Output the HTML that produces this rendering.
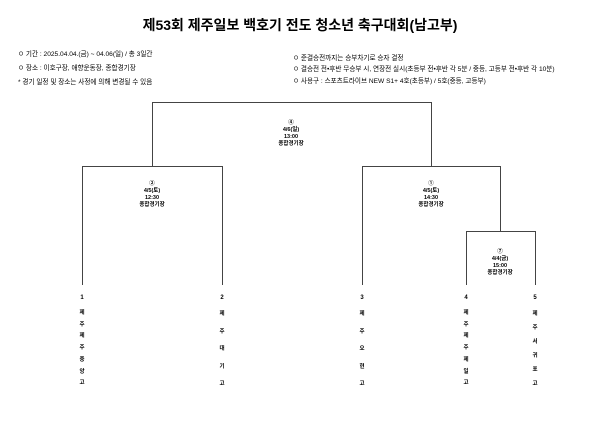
<!DOCTYPE html>
<html><head><meta charset="utf-8"><style>
body{margin:0;width:600px;height:425px;background:#fff;position:relative;overflow:hidden;font-family:"Liberation Sans","Noto Sans CJK KR",sans-serif;color:#000}
.a{position:absolute;white-space:nowrap}
.t{left:0;width:600px;text-align:center;top:15px;font-size:14px;font-weight:bold}
.i{font-size:6.6px}
.l{position:absolute;background:#444}
.lab{position:absolute;text-align:center;font-size:5.5px;font-weight:bold;line-height:7px;width:60px}
.n{position:absolute;font-size:6px;font-weight:bold;text-align:center;width:10px}
</style></head><body>
<div class="a t">제53회 제주일보 백호기 전도 청소년 축구대회(남고부)</div>
<div class="a i" style="left:18px;top:48px">ㅇ 기간 : 2025.04.04.(금) ~ 04.06(일) / 총 3일간</div>
<div class="a i" style="left:18px;top:62px">ㅇ 장소 : 이호구장, 애향운동장, 종합경기장</div>
<div class="a i" style="left:18px;top:76px">* 경기 일정 및 장소는 사정에 의해 변경될 수 있음</div>
<div class="a i" style="left:293px;top:52px">ㅇ 준결승전까지는 승부차기로 승자 결정</div>
<div class="a i" style="left:293px;top:63px">ㅇ 결승전 전•후반 무승부 시, 연장전 실시(초등부 전•후반 각 5분 / 중등, 고등부 전•후반 각 10분)</div>
<div class="a i" style="left:293px;top:75px">ㅇ 사용구 : 스포츠트라이브 NEW S1+ 4호(초등부) / 5호(중등, 고등부)</div>

<div class="l" style="left:152px;top:102px;width:280px;height:1px"></div>
<div class="l" style="left:152px;top:102px;width:1px;height:64px"></div>
<div class="l" style="left:431px;top:102px;width:1px;height:64px"></div>
<div class="l" style="left:82px;top:166px;width:141px;height:1px"></div>
<div class="l" style="left:82px;top:166px;width:1px;height:119px"></div>
<div class="l" style="left:222px;top:166px;width:1px;height:119px"></div>
<div class="l" style="left:362px;top:166px;width:139px;height:1px"></div>
<div class="l" style="left:362px;top:166px;width:1px;height:119px"></div>
<div class="l" style="left:500px;top:166px;width:1px;height:65px"></div>
<div class="l" style="left:466px;top:231px;width:70px;height:1px"></div>
<div class="l" style="left:466px;top:231px;width:1px;height:54px"></div>
<div class="l" style="left:535px;top:231px;width:1px;height:54px"></div>

<div class="lab" style="left:261px;top:120px">④<br>4/6(일)<br>13:00<br>종합경기장</div>
<div class="lab" style="left:122px;top:181px">②<br>4/5(토)<br>12:30<br>종합경기장</div>
<div class="lab" style="left:401px;top:181px">①<br>4/5(토)<br>14:30<br>종합경기장</div>
<div class="lab" style="left:470px;top:249px">⑦<br>4/4(금)<br>15:00<br>종합경기장</div>

<div class="n" style="left:77px;top:294px;line-height:8px">1</div>
<div class="n" style="left:217px;top:294px;line-height:8px">2</div>
<div class="n" style="left:357px;top:294px;line-height:8px">3</div>
<div class="n" style="left:461px;top:294px;line-height:8px">4</div>
<div class="n" style="left:530px;top:294px;line-height:8px">5</div>

<div class="n" style="left:77px;top:308px;line-height:11.7px;font-size:5.5px">제<br>주<br>제<br>주<br>중<br>앙<br>고</div>
<div class="n" style="left:217px;top:306px;line-height:17.5px;font-size:5.5px">제<br>주<br>대<br>기<br>고</div>
<div class="n" style="left:357px;top:306px;line-height:17.5px;font-size:5.5px">제<br>주<br>오<br>현<br>고</div>
<div class="n" style="left:461px;top:308px;line-height:11.7px;font-size:5.5px">제<br>주<br>제<br>주<br>제<br>일<br>고</div>
<div class="n" style="left:530px;top:307px;line-height:14px;font-size:5.5px">제<br>주<br>서<br>귀<br>포<br>고</div>
</body></html>
